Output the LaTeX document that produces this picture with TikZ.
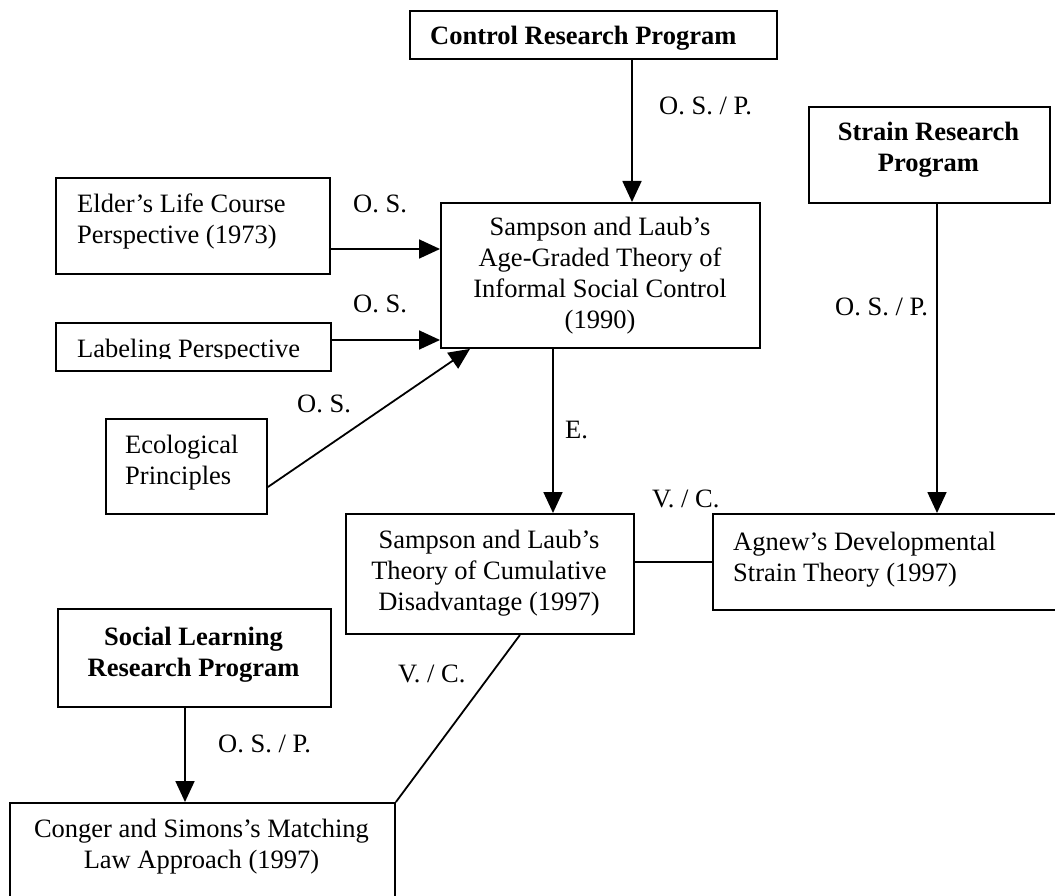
\documentclass[tikz,border=0pt]{standalone}
\usepackage{fontspec}
\setmainfont{Liberation Serif}
\usetikzlibrary{arrows.meta}
\begin{document}
\begin{tikzpicture}[x=1pt,y=-1pt,
  box/.style={draw, line width=1.9pt, inner sep=0pt, anchor=north west},
  txt/.style={inner sep=0pt, font=\fontsize{26.5}{31}\selectfont},
  btxt/.style={inner sep=0pt, font=\fontsize{26.5}{31}\selectfont\bfseries},
  ctr/.style={anchor=north, align=center},
  lft/.style={anchor=north west, align=left},
  lbl/.style={inner sep=0pt, anchor=base west, font=\fontsize{26.5}{31}\selectfont},
  arr/.style={line width=1.8pt, -{Triangle[length=21pt,width=19pt]}},
  ln/.style={line width=1.8pt}]
\clip (0,0) rectangle (1055,896);
\fill[white] (0,0) rectangle (1055,896);

% boxes
\node[box, minimum width=367pt, minimum height=48pt] (ctrl) at (409,10) {};
\node[box, minimum width=241pt, minimum height=96pt] (strain) at (808,106) {};
\node[box, minimum width=274pt, minimum height=96pt] (elder) at (55,177) {};
\node[box, minimum width=319pt, minimum height=145pt] (sampson) at (440,202) {};
\node[box, minimum width=275pt, minimum height=48pt] (labeling) at (55,322) {};
\node[box, minimum width=161pt, minimum height=95pt] (eco) at (105,418) {};
\node[box, minimum width=288pt, minimum height=120pt] (cum) at (345,513) {};
\node[box, minimum width=360pt, minimum height=96pt] (agnew) at (712,513) {};
\node[box, minimum width=273pt, minimum height=98pt] (social) at (57,608) {};
\node[box, minimum width=385pt, minimum height=110pt] (conger) at (9,802) {};

% box texts
\node[btxt, anchor=base west] (tctrl) at (430,45) {Control Research Program};
\node[btxt, ctr] (tstrain) at (928.5,118) {\rule{0pt}{22pt}Strain Research\\Program};
\node[txt, lft] (telder) at (77,190) {\rule{0pt}{22pt}Elder’s Life Course\\Perspective (1973)};
\node[txt, ctr] (tsamp) at (600,213) {\rule{0pt}{22pt}Sampson and Laub’s\\Age-Graded Theory of\\Informal Social Control\\(1990)};
\begin{scope}
\clip (55,322) rectangle (330,358.5);
\node[lbl] (tlab) at (77,357) {Labeling Perspective};
\end{scope}
\node[txt, lft] (teco) at (125,431) {\rule{0pt}{22pt}Ecological\\Principles};
\node[txt, ctr] (tcum) at (489,526) {\rule{0pt}{22pt}Sampson and Laub’s\\Theory of Cumulative\\Disadvantage (1997)};
\node[txt, lft] (tagnew) at (733,528) {\rule{0pt}{22pt}Agnew’s Developmental\\Strain Theory (1997)};
\node[btxt, ctr] (tsocial) at (193.5,623) {\rule{0pt}{22pt}Social Learning\\Research Program};
\node[txt, ctr] (tconger) at (201.5,815) {\rule{0pt}{22pt}Conger and Simons’s Matching\\Law Approach (1997)};

% helper coordinates
\coordinate (xc) at (632,0);
\coordinate (xs) at (937,0);
\coordinate (ye) at (0,249);
\coordinate (yl) at (0,340);
\coordinate (yeco) at (0,487);
\coordinate (xeco) at (470,0);
\coordinate (xE) at (553,0);
\coordinate (yv) at (0,562);
\coordinate (xd) at (520,0);
\coordinate (xsl) at (185,0);

% connectors
\draw[arr] (ctrl.south -| xc) -- (sampson.north -| xc);
\draw[arr] (strain.south -| xs) -- (agnew.north -| xs);
\draw[arr] (elder.east |- ye) -- (sampson.west |- ye);
\draw[arr] (labeling.east |- yl) -- (sampson.west |- yl);
\draw[arr] (eco.east |- yeco) -- (sampson.south -| xeco);
\draw[arr] (sampson.south -| xE) -- (cum.north -| xE);
\draw[ln] (cum.east |- yv) -- (agnew.west |- yv);
\draw[ln] (cum.south -| xd) -- (conger.north east);
\draw[arr] (social.south -| xsl) -- (conger.north -| xsl);

% connector labels
\node[lbl] (l1) at (659,115) {O. S. / P.};
\node[lbl] (l2) at (835,315) {O. S. / P.};
\node[lbl] (l3) at (353,213) {O. S.};
\node[lbl] (l4) at (353,312) {O. S.};
\node[lbl] (l5) at (297,412) {O. S.};
\node[lbl] (l6) at (565,438) {E.};
\node[lbl] (l7) at (652,507) {V. / C.};
\node[lbl] (l8) at (398,682) {V. / C.};
\node[lbl] (l9) at (218,752) {O. S. / P.};
\end{tikzpicture}
\end{document}
